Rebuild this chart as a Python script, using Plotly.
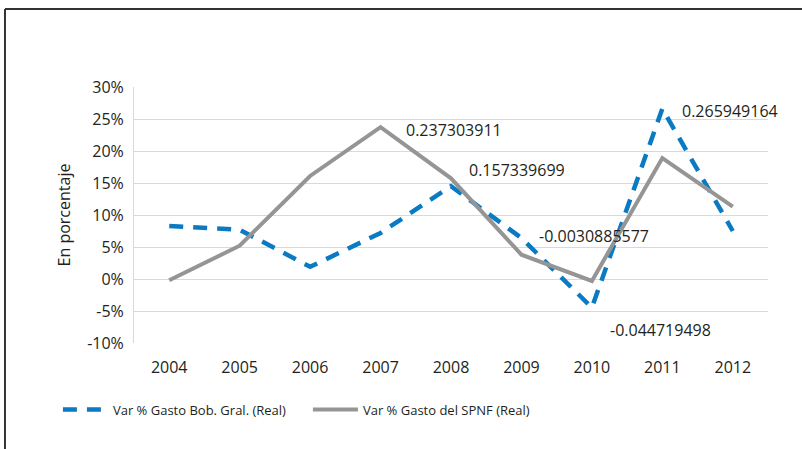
import plotly.graph_objects as go

years = ["2004", "2005", "2006", "2007", "2008", "2009", "2010", "2011", "2012"]
gasto_bob_gral = [0.083, 0.077, 0.019, 0.072, 0.145, 0.064, -0.044719498, 0.265949164, 0.075]
gasto_spnf = [-0.002, 0.052, 0.161, 0.237303911, 0.157339699, 0.038, -0.0030885577, 0.189, 0.113]
y_ticks = [-0.10, -0.05, 0.0, 0.05, 0.10, 0.15, 0.20, 0.25, 0.30]
y_tick_text = ["-10%", "-5%", "0%", "5%", "10%", "15%", "20%", "25%", "30%"]

# data labels: (series values, index, xshift, yshift)
labels = [
    (gasto_spnf, 3, 23, -3),
    (gasto_spnf, 4, 16, 8),
    (gasto_spnf, 6, -55, 45),
    (gasto_bob_gral, 6, 16, -22),
    (gasto_bob_gral, 7, 18, -2),
]

FONT = "Open Sans"
fig = go.Figure()
fig.add_trace(go.Scatter(
    x=years, y=gasto_bob_gral, mode="lines",
    name="Var % Gasto Bob. Gral. (Real)",
    line=dict(color="#0a7ac2", width=4.5, dash="14px,10px"),
))
fig.add_trace(go.Scatter(
    x=years, y=gasto_spnf, mode="lines",
    name="Var % Gasto del SPNF (Real)",
    line=dict(color="#959595", width=4),
))

for series, i, dx, dy in labels:
    v = series[i]
    fig.add_annotation(
        x=i, y=v, xref="x", yref="y", text=repr(v), showarrow=False,
        xanchor="left", yanchor="middle", xshift=dx, yshift=dy,
        font=dict(family=FONT, size=16, color="#231f20"),
    )

# frame lines (left and top)
fig.add_shape(type="line", xref="paper", yref="paper", x0=-0.2035, x1=1.1, y0=1.305, y1=1.305,
              line=dict(color="#333333", width=2))
fig.add_shape(type="line", xref="paper", yref="paper", x0=-0.2035, x1=-0.2035, y0=-0.5, y1=1.305,
              line=dict(color="#333333", width=2))

fig.update_layout(
    width=802, height=449,
    margin=dict(l=134, r=34, t=87, b=106, autoexpand=False),
    paper_bgcolor="white", plot_bgcolor="white",
    font=dict(family=FONT, size=16, color="#231f20"),
    showlegend=True,
    legend=dict(
        orientation="h", x=-0.12, y=-0.26, xanchor="left", yanchor="middle",
        font=dict(family=FONT, size=13, color="#231f20"),
        entrywidth=190, itemwidth=45,
    ),
    xaxis=dict(
        type="category", categoryarray=years, categoryorder="array",
        range=[-0.5, len(years) - 0.5], automargin=False,
        showgrid=False, zeroline=False, showline=False,
        ticks="", tickfont=dict(size=16), ticklabelstandoff=13,
    ),
    yaxis=dict(
        range=[-0.10, 0.30], tickvals=y_ticks, ticktext=y_tick_text, automargin=False,
        showgrid=True, gridcolor="#d9d9d9", gridwidth=1,
        zeroline=False, showline=True, linecolor="#d9d9d9", linewidth=1,
        ticks="", tickfont=dict(size=16), ticklabelstandoff=6,
        title=dict(text="En porcentaje", font=dict(size=16), standoff=12),
    ),
)

fig.write_html("out.html", config={"displayModeBar": False},
               post_script="document.body.style.margin='0';")
